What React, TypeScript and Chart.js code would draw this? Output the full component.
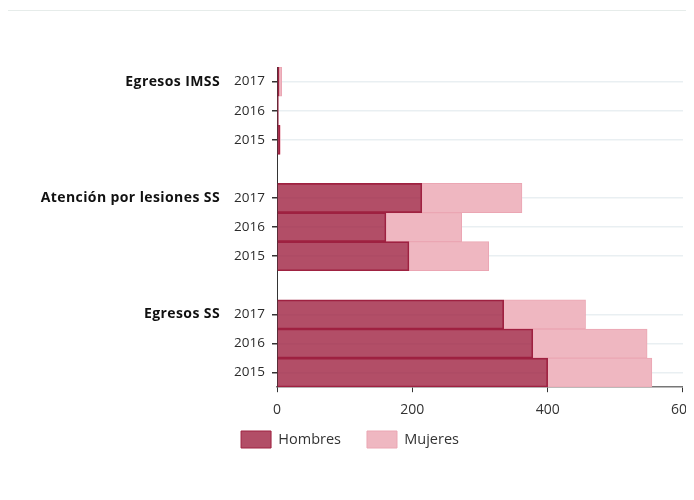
import React, { useEffect, useRef } from "react";
import { Chart, registerables } from "chart.js";

Chart.register(...registerables);

const groups = ["Egresos IMSS", "Atención por lesiones SS", "Egresos SS"];
const years = ["2017", "2016", "2015"];
const hombresIMSS = [3, 2, 4];
const mujeresIMSS = [4, 0, 1];
const hombresLesiones = [214, 161, 195];
const mujeresLesiones = [148, 112, 118];
const hombresEgresosSS = [335, 378, 400];
const mujeresEgresosSS = [121, 169, 154];
const xTicks = [0, 200, 400, 600];

const FONT = "'Open Sans', sans-serif";

export default function App() {
  const ref = useRef<HTMLCanvasElement | null>(null);

  useEffect(() => {
    const canvas = ref.current;
    if (!canvas) return;

    const hSeries = [hombresIMSS, hombresLesiones, hombresEgresosSS];
    const mSeries = [mujeresIMSS, mujeresLesiones, mujeresEgresosSS];
    const labels: string[] = [];
    const hData: (number | null)[] = [];
    const mData: (number | null)[] = [];
    const groupIndex: number[] = [];
    groups.forEach((g, gi) => {
      if (gi > 0) {
        labels.push("");
        hData.push(null);
        mData.push(null);
      }
      groupIndex.push(labels.length);
      years.forEach((y, yi) => {
        labels.push(y);
        hData.push(hSeries[gi][yi]);
        mData.push(mSeries[gi][yi]);
      });
    });

    const groupLabelPlugin = {
      id: "groupLabels",
      afterLayout(chart: any) {
        const lg = chart.legend;
        if (lg) {
          const target = 420 - 26;
          const d = lg.top - target;
          lg.top -= d;
          lg.bottom -= d;
          lg.left -= 6;
          lg.right -= 6;
        }
      },
      afterDraw(chart: any) {
        const ys = chart.scales.y;
        const c = chart.ctx;
        c.save();
        c.font = `bold 14px ${FONT}`;
        try {
          (c as any).letterSpacing = "0.4px";
        } catch (e) {}
        c.fillStyle = "#111";
        c.textAlign = "right";
        c.textBaseline = "middle";
        groups.forEach((g, gi) => {
          c.fillText(g, 212, ys.getPixelForValue(groupIndex[gi]));
        });
        c.restore();
      },
    };

    const chart = new Chart(canvas, {
      type: "bar",
      data: {
        labels,
        datasets: [
          {
            label: "Hombres",
            data: hData,
            backgroundColor: "rgba(159,34,65,0.8)",
            borderColor: "#9f2241",
            borderWidth: 1,
            barPercentage: 1,
            categoryPercentage: 1,
          },
          {
            label: "Mujeres",
            data: mData,
            backgroundColor: "#efb7c1",
            borderColor: "#eba6b3",
            borderWidth: 1,
            barPercentage: 1,
            categoryPercentage: 1,
          },
        ],
      },
      options: {
        indexAxis: "y",
        responsive: false,
        animation: false,
        layout: {
          autoPadding: false,
          padding: { top: 56, right: 0, left: 0, bottom: 0 },
        },
        plugins: {
          tooltip: { enabled: false },
          legend: {
            position: "bottom",
            labels: {
              boxWidth: 30,
              boxHeight: 17,
              padding: 26,
              color: "#333",
              font: { family: FONT, size: 14.5 },
            },
          },
        },
        scales: {
          x: {
            stacked: true,
            min: 0,
            max: 600,
            afterBuildTicks(scale: any) {
              scale.ticks = xTicks.map((v) => ({ value: v }));
            },
            ticks: {
              color: "#333",
              padding: 9,
              maxRotation: 0,
              font: { family: FONT, size: 14 },
            },
            grid: {
              display: true,
              drawOnChartArea: false,
              drawTicks: true,
              tickLength: 5,
              tickColor: "#333",
            },
            border: { display: true, color: "#777", width: 1.5 },
          },
          y: {
            stacked: true,
            afterFit(scale: any) {
              scale.width = 269;
            },
            ticks: {
              color: "#2b2b2b",
              padding: 7,
              font: { family: FONT, size: 13.5 },
            },
            grid: {
              offset: false,
              drawTicks: true,
              tickLength: 5,
              color: (ctx: any) =>
                ctx.tick && ctx.tick.label === "" ? "rgba(0,0,0,0)" : "#e9eff2",
              tickColor: (ctx: any) =>
                ctx.tick && ctx.tick.label === "" ? "rgba(0,0,0,0)" : "#333",
              lineWidth: 1.5,
            },
            border: { display: true, color: "#333", width: 1 },
          },
        },
      },
      plugins: [groupLabelPlugin],
    } as any);

    return () => chart.destroy();
  }, []);

  return (
    <div style={{ width: 686, overflow: "hidden" }}>
      <div style={{ height: 2 }} />
      <div style={{ height: 1, background: "#e6ecea" }} />
      <canvas ref={ref} width={696} height={469} style={{ display: "block" }} />
    </div>
  );
}
